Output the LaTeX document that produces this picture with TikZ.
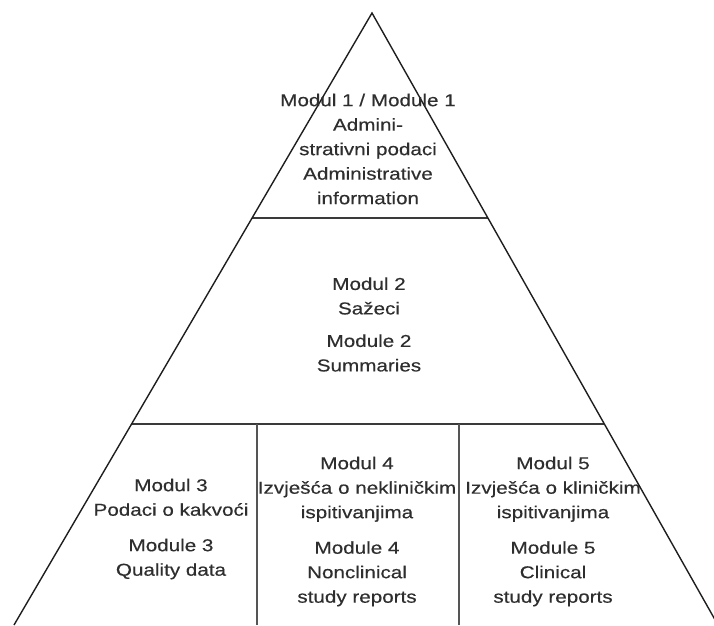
\documentclass[tikz,border=0pt]{standalone}
\usepackage{fontspec}
\newfontfamily\labfont{Liberation Sans}[FakeStretch=1.2,FakeBold=0.4]
\usetikzlibrary{calc}
\definecolor{txt}{HTML}{2E2E2E}
\definecolor{edge}{HTML}{1E1E1E}
\definecolor{sep}{HTML}{3A3A3A}
\definecolor{vsep}{HTML}{555555}
\begin{document}
\begin{tikzpicture}[x=1pt,y=-1pt,
  lab/.style={font=\labfont\fontsize{17.2}{24.5}\selectfont, text=txt, align=center, inner sep=0pt},
  edgeline/.style={draw=edge, line width=1.4pt, line join=miter},
  band/.style={draw=sep, line width=2.2pt},
  divider/.style={draw=vsep, line width=1.3pt}]
\useasboundingbox (0,0) rectangle (714,625);
\clip (0,0) rectangle (714,625);
\coordinate (apex) at (372,13);
\coordinate (bl) at (14,625);
\coordinate (br) at (718,625);
\coordinate (l1) at ($(apex)!0.335!(bl)$);
\coordinate (r1) at ($(apex)!0.335!(br)$);
\coordinate (l2) at ($(apex)!0.6716!(bl)$);
\coordinate (r2) at ($(apex)!0.6716!(br)$);
\coordinate (d1t) at (257,424);
\coordinate (d1b) at (257,625);
\coordinate (d2t) at (459,424);
\coordinate (d2b) at (459,625);
\draw[band] (l1) -- (r1);
\draw[band] (l2) -- (r2);
\draw[divider] (d1t) -- (d1b);
\draw[divider] (d2t) -- (d2b);
\draw[edgeline] (bl) -- (apex) -- (br);
\node[lab] (m1) at (368,149) {Modul 1 / Module 1\\Admini-\\strativni podaci\\Administrative\\information};
\node[lab] (m2) at (369,324.5) {Modul 2\\Sažeci\\[8pt]Module 2\\Summaries};
\node[lab] (m3) at (171,529) {Modul 3\\Podaci o kakvoći\\[11pt]Module 3\\Quality data};
\node[lab] (m4) at (357,531.5) {Modul 4\\Izvješća o nekliničkim\\ispitivanjima\\[11pt]Module 4\\Nonclinical\\study reports};
\node[lab] (m5) at (553,531.5) {Modul 5\\Izvješća o kliničkim\\ispitivanjima\\[11pt]Module 5\\Clinical\\study reports};
\end{tikzpicture}
\end{document}
